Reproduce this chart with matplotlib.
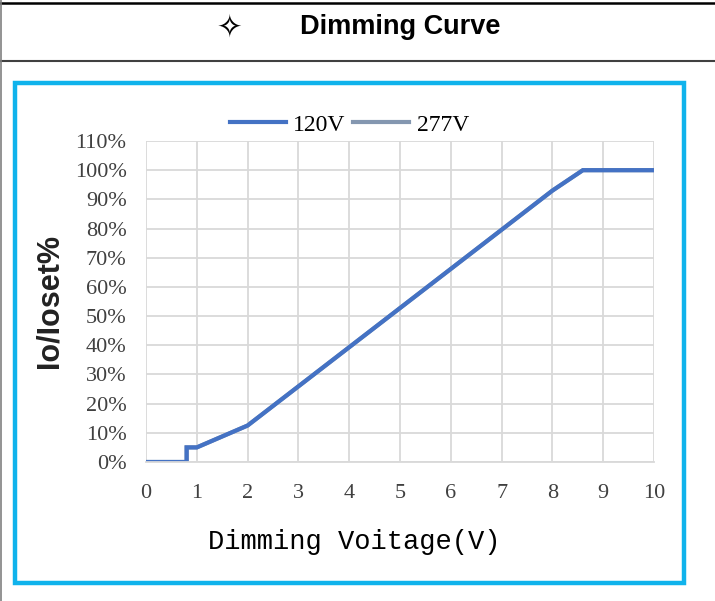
import matplotlib
matplotlib.use("Agg")
from matplotlib import pyplot as plt
from matplotlib.patches import Rectangle
from matplotlib.lines import Line2D

# data
volt_120 = [0, 0.8, 0.8, 1, 2, 8, 8.6, 10]
pct_120 = [0, 0, 5, 5, 12.5, 93, 100, 100]
volt_277 = [0, 0.8, 0.8, 1, 2, 8, 8.6, 10]
pct_277 = [0, 0, 5, 5, 12.5, 93, 100, 100]
x_ticks = list(range(0, 11))
y_ticks = list(range(0, 111, 10))
series_names = ["120V", "277V"]

W, H = 715, 601
fig = plt.figure(figsize=(W / 100, H / 100), dpi=100)
fig.patch.set_facecolor("white")


def fx(px):
    return px / W


def fy(py):
    return 1 - py / H


# table lines around the title
fig.add_artist(Line2D([0, 1], [fy(2.5), fy(2.5)], color="black", lw=1.8))
fig.add_artist(Line2D([0, 1], [fy(61), fy(61)], color="#404040", lw=1.5))
fig.add_artist(Line2D([fx(0.7), fx(0.7)], [0, 1], color="#808080", lw=1.2))

fig.text(fx(229), fy(28), "\u2727", fontsize=22, ha="center", va="center",
         family=["DejaVu Sans"])
fig.text(fx(400), fy(27), "Dimming Curve", fontsize=19.5, fontweight="bold",
         ha="center", va="center", family="Liberation Sans")

# cyan frame
fig.add_artist(Rectangle((fx(15.5), fy(582.5)), fx(684) - fx(15.5),
                         fy(82.5) - fy(582.5), fill=False,
                         edgecolor="#10B3EC", lw=3.2))

ax = fig.add_axes([fx(146), fy(462), fx(654) - fx(146), fy(141) - fy(462)])
ax.plot(volt_277, pct_277, color="#8497B0", lw=3, solid_joinstyle="miter")
ax.plot(volt_120, pct_120, color="#4472C4", lw=3, solid_joinstyle="miter")

ax.set_xlim(0, 10)
ax.set_ylim(0, 110)
ax.set_xticks(x_ticks)
ax.set_yticks(y_ticks)
ax.set_xticklabels([str(v) for v in x_ticks])
ax.set_yticklabels([f"{v}%" for v in y_ticks])
ax.grid(True, color="#D9D9D9", lw=1.3)
ax.set_axisbelow(True)
for s in ["top", "right", "left"]:
    ax.spines[s].set_visible(False)
ax.spines["bottom"].set_color("#D9D9D9")
ax.spines["bottom"].set_linewidth(1.3)
ax.tick_params(length=0, labelsize=16, colors="#404040", pad=14)
ax.tick_params(axis="x", pad=16)
for lab in ax.get_xticklabels() + ax.get_yticklabels():
    lab.set_family("Liberation Serif")

ax.set_xlabel("Dimming Voitage(V)", fontsize=19.5, family="Liberation Mono",
              color="black")
ax.xaxis.set_label_coords(0.41, -0.21)
ax.set_ylabel("Io/Ioset%", fontsize=22, fontweight="bold",
              family="Liberation Sans", color="#222222")
ax.yaxis.set_label_coords(-0.16, 0.5)

handles = [Line2D([], [], color="#4472C4", lw=3),
           Line2D([], [], color="#8497B0", lw=3)]
leg = ax.legend(handles, series_names, loc="center",
                bbox_to_anchor=(0.4, 1.05), ncol=2, frameon=False,
                prop={"family": "Liberation Serif", "size": 17},
                handlelength=2.4, columnspacing=0.3, handletextpad=0.3)

fig.savefig("out.png", dpi=100)
